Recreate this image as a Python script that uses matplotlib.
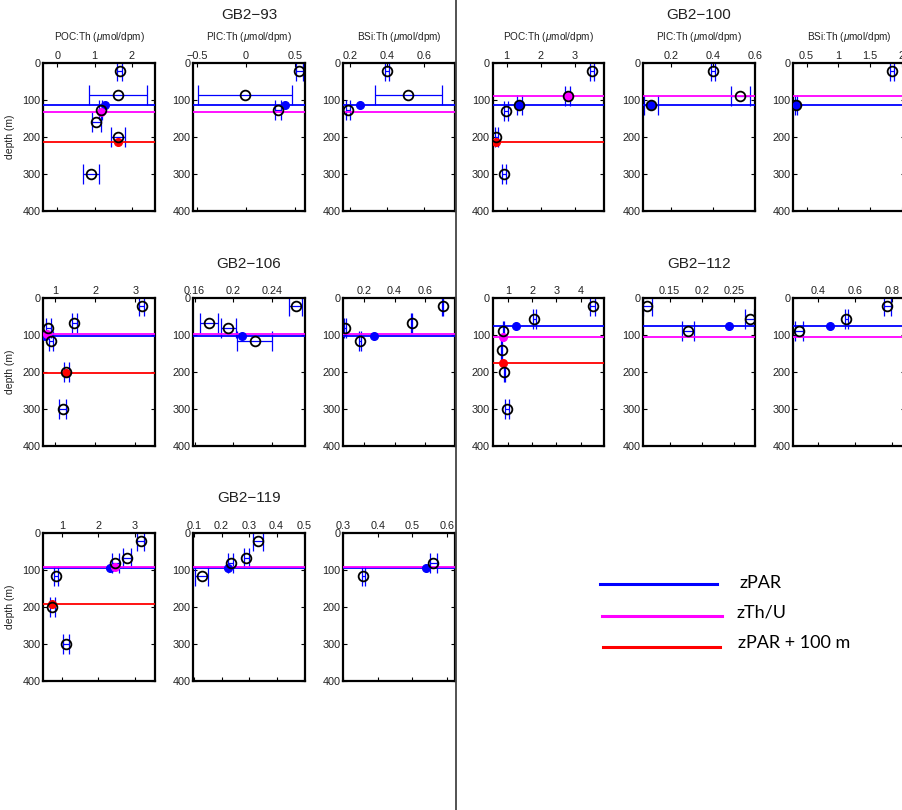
import matplotlib
matplotlib.use("Agg")
import matplotlib.pyplot as plt
from matplotlib.lines import Line2D

plt.rcParams['font.family'] = ['Liberation Sans', 'DejaVu Sans']
plt.rcParams['mathtext.fontset'] = 'custom'
plt.rcParams['mathtext.it'] = 'Liberation Sans:italic'
plt.rcParams['mathtext.rm'] = 'Liberation Sans'

# ---------------- data ----------------
stations = ['GB2\u221293', 'GB2\u2212100', 'GB2\u2212106', 'GB2\u2212112', 'GB2\u2212119']
ratio_labels = ['POC:Th ($\\mu$mol/dpm)', 'PIC:Th ($\\mu$mol/dpm)', 'BSi:Th ($\\mu$mol/dpm)']
zPAR = [113, 113, 102, 76, 93]
zThU = [131, 90, 97, 105, 91]
zPAR100 = [213, 213, 202, 176, 193]
depth_ticks = [0, 100, 200, 300, 400]

# GB2-93
poc93_depth = [20, 85, 126, 160, 200, 300]
poc93_val = [1.68, 1.63, 1.16, 1.05, 1.63, 0.91]
poc93_err = [0.07, 0.77, 0.05, 0.13, 0.18, 0.22]
pic93_depth = [20, 85, 127]
pic93_val = [0.545, -0.01, 0.33]
pic93_err = [0.035, 0.48, 0.03]
bsi93_depth = [20, 85, 127]
bsi93_val = [0.40, 0.516, 0.187]
bsi93_err = [0.01, 0.18, 0.01]
interp93 = {'poc': (1.27, 1.16, 1.63), 'pic': 0.40, 'bsi': 0.254}

# GB2-100
poc100_depth = [20, 90, 113, 130, 200, 300]
poc100_val = [3.49, 2.79, 1.37, 0.98, 0.70, 0.91]
poc100_err = [0.06, 0.08, 0.08, 0.06, 0.05, 0.06]
pic100_depth = [20, 90, 113]
pic100_val = [0.40, 0.53, 0.104]
pic100_err = [0.01, 0.045, 0.035]
bsi100_depth = [20, 113]
bsi100_val = [1.85, 0.33]
bsi100_err = [0.03, 0.02]
interp100 = {'poc': (1.37, 2.79, 0.70), 'pic': 0.104, 'bsi': 0.33}

# GB2-106
poc106_depth = [20, 66, 81, 117, 200, 300]
poc106_val = [3.15, 1.48, 0.83, 0.90, 1.28, 1.19]
poc106_err = [0.06, 0.06, 0.06, 0.06, 0.06, 0.08]
pic106_depth = [20, 66, 81, 117]
pic106_val = [0.264, 0.1745, 0.1949, 0.222]
pic106_err = [0.007, 0.0092, 0.0078, 0.018]
bsi106_depth = [20, 66, 81, 117]
bsi106_val = [0.716, 0.512, 0.074, 0.172]
bsi106_err = [0.005, 0.005, 0.005, 0.005]
interp106 = {'poc': (0.75, 0.81, 1.28), 'pic': 0.2086, 'bsi': 0.266}

# GB2-112
poc112_depth = [20, 56, 90, 140, 200, 300]
poc112_val = [4.5, 2.1, 0.82, 0.75, 0.86, 0.96]
poc112_err = [0.1, 0.05, 0.03, 0.03, 0.03, 0.08]
pic112_depth = [20, 56, 90]
pic112_val = [0.115, 0.274, 0.178]
pic112_err = [0.007, 0.007, 0.009]
bsi112_depth = [20, 56, 90]
bsi112_val = [0.775, 0.553, 0.296]
bsi112_err = [0.02, 0.01, 0.02]
interp112 = {'poc': (1.34, 0.82, 0.82), 'pic': 0.242, 'bsi': 0.466}

# GB2-119
poc119_depth = [21, 66, 80, 117, 201, 300]
poc119_val = [3.16, 2.79, 2.47, 0.84, 0.74, 1.12]
poc119_err = [0.1, 0.1, 0.1, 0.06, 0.06, 0.08]
pic119_depth = [21, 66, 80, 117]
pic119_val = [0.334, 0.29, 0.233, 0.128]
pic119_err = [0.018, 0.01, 0.01, 0.024]
bsi119_depth = [80, 117]
bsi119_val = [0.56, 0.358]
bsi119_err = [0.01, 0.005]
interp119 = {'poc': (2.31, 2.47, 0.74), 'pic': 0.225, 'bsi': 0.54}

# axis ranges and ticks
xlims = [
    [(-0.38, 2.62), (-0.54, 0.60), (0.162, 0.768)],
    [(0.59, 3.86), (0.067, 0.60), (0.29, 2.05)],
    [(0.71, 3.48), (0.1587, 0.2734), (0.062, 0.797)],
    [(0.38, 4.97), (0.109, 0.282), (0.265, 0.869)],
    [(0.49, 3.55), (0.097, 0.503), (0.317, 0.623)],
]
xticks = [
    [[0, 1, 2], [-0.5, 0, 0.5], [0.2, 0.4, 0.6]],
    [[1, 2, 3], [0.2, 0.4, 0.6], [0.5, 1, 1.5, 2]],
    [[1, 2, 3], [0.16, 0.2, 0.24], [0.2, 0.4, 0.6]],
    [[1, 2, 3, 4], [0.15, 0.2, 0.25], [0.4, 0.6, 0.8]],
    [[1, 2, 3], [0.1, 0.2, 0.3, 0.4, 0.5], [0.3, 0.4, 0.5, 0.6]],
]
xticklabels = [
    [['0', '1', '2'], ['\u22120.5', '0', '0.5'], ['0.2', '0.4', '0.6']],
    [['1', '2', '3'], ['0.2', '0.4', '0.6'], ['0.5', '1', '1.5', '2']],
    [['1', '2', '3'], ['0.16', '0.2', '0.24'], ['0.2', '0.4', '0.6']],
    [['1', '2', '3', '4'], ['0.15', '0.2', '0.25'], ['0.4', '0.6', '0.8']],
    [['1', '2', '3'], ['0.1', '0.2', '0.3', '0.4', '0.5'], ['0.3', '0.4', '0.5', '0.6']],
]

profiles = [
    [(poc93_depth, poc93_val, poc93_err), (pic93_depth, pic93_val, pic93_err), (bsi93_depth, bsi93_val, bsi93_err)],
    [(poc100_depth, poc100_val, poc100_err), (pic100_depth, pic100_val, pic100_err), (bsi100_depth, bsi100_val, bsi100_err)],
    [(poc106_depth, poc106_val, poc106_err), (pic106_depth, pic106_val, pic106_err), (bsi106_depth, bsi106_val, bsi106_err)],
    [(poc112_depth, poc112_val, poc112_err), (pic112_depth, pic112_val, pic112_err), (bsi112_depth, bsi112_val, bsi112_err)],
    [(poc119_depth, poc119_val, poc119_err), (pic119_depth, pic119_val, pic119_err), (bsi119_depth, bsi119_val, bsi119_err)],
]
interps = [interp93, interp100, interp106, interp112, interp119]

legend_labels = ['zPAR', 'zTh/U', 'zPAR + 100 m']
BLUE, MAG, RED = '#0000ff', '#ff00ff', '#ff0000'

# ---------------- layout ----------------
W, H = 903, 810
fig = plt.figure(figsize=(W / 100, H / 100), dpi=100)

AX_W, AX_H = 111.5, 147.4
col_lefts = {'L': [43.3, 193.3, 343.3], 'R': [492.7, 643.3, 793.3]}
station_pos = [('L', 63.3, 15), ('R', 63.3, 15), ('L', 298.3, 264), ('R', 298.3, 264), ('L', 533.3, 498)]

for si, st in enumerate(stations):
    side, top, title_y = station_pos[si]
    for ri in range(3):
        left = col_lefts[side][ri]
        ax = fig.add_axes([left / W, 1 - (top + AX_H) / H, AX_W / W, AX_H / H])
        d, v, e = profiles[si][ri]
        ax.errorbar(v, d, xerr=e, fmt='none', ecolor=BLUE, elinewidth=0.9,
                    capsize=7, capthick=0.9, zorder=2)
        ax.axhline(zPAR[si], color=BLUE, lw=1.3, zorder=3)
        ax.axhline(zThU[si], color=MAG, lw=1.3, zorder=3)
        if ri == 0:
            ax.axhline(zPAR100[si], color=RED, lw=1.3, zorder=3)
            b, m, r = interps[si]['poc']
            ax.plot([b], [zPAR[si]], 'o', color=BLUE, ms=5.5, zorder=4)
            ax.plot([m], [zThU[si]], 'o', color=MAG, ms=5.5, zorder=4)
            ax.plot([r], [zPAR100[si]], 'o', color=RED, ms=5.5, zorder=4)
        else:
            key = 'pic' if ri == 1 else 'bsi'
            ax.plot([interps[si][key]], [zPAR[si]], 'o', color=BLUE, ms=5.5, zorder=4)
        ax.plot(v, d, 'o', mfc='none', mec='black', mew=1.3, ms=7, zorder=5)

        ax.set_ylim(400, 0)
        ax.set_xlim(*xlims[si][ri])
        ax.set_yticks(depth_ticks)
        ax.set_yticklabels([str(t) for t in depth_ticks])
        ax.set_xticks(xticks[si][ri])
        ax.set_xticklabels(xticklabels[si][ri])
        ax.tick_params(axis='both', direction='in', length=3, width=0.8,
                       labelsize=7.8, colors='black', labelcolor='#222222',
                       top=True, bottom=True, left=True, right=True,
                       labeltop=True, labelbottom=False, pad=2)
        for sp in ax.spines.values():
            sp.set_linewidth(1.6)
            sp.set_color('black')
        ax.set_clip_on(False)
        if side == 'L' and ri == 0:
            fig.text(10 / W, 1 - (top + AX_H / 2) / H, 'depth (m)', rotation=90,
                     ha='center', va='center', fontsize=7.5, color='#222222')
        if si < 2:
            fig.text((left + AX_W / 2) / W, 1 - 37 / H, ratio_labels[ri],
                     ha='center', va='center', fontsize=7.2, color='#222222')
        if ri == 1:
            fig.text((left + AX_W / 2) / W, 1 - title_y / H, st,
                     ha='center', va='center', fontsize=11, color='#222222')

# divider line
fig.add_artist(Line2D([456 / W, 456 / W], [0, 1], color='#444444', lw=1.3))

# legend
leg_colors = [BLUE, MAG, RED]
leg_lines = [(600, 717, 584), (602, 722, 616), (603, 720, 647)]
leg_text = [(740, 583), (737, 612), (738, 643)]
for (x0, x1, y), (tx, ty), c, lab in zip(leg_lines, leg_text, leg_colors, legend_labels):
    fig.add_artist(Line2D([x0 / W, x1 / W], [1 - y / H, 1 - y / H], color=c, lw=2.2))
    fig.text(tx / W, 1 - ty / H, lab, ha='left', va='center', fontsize=13,
             family=['Lato', 'DejaVu Sans'], color='black')

fig.savefig('out.png', dpi=100)
